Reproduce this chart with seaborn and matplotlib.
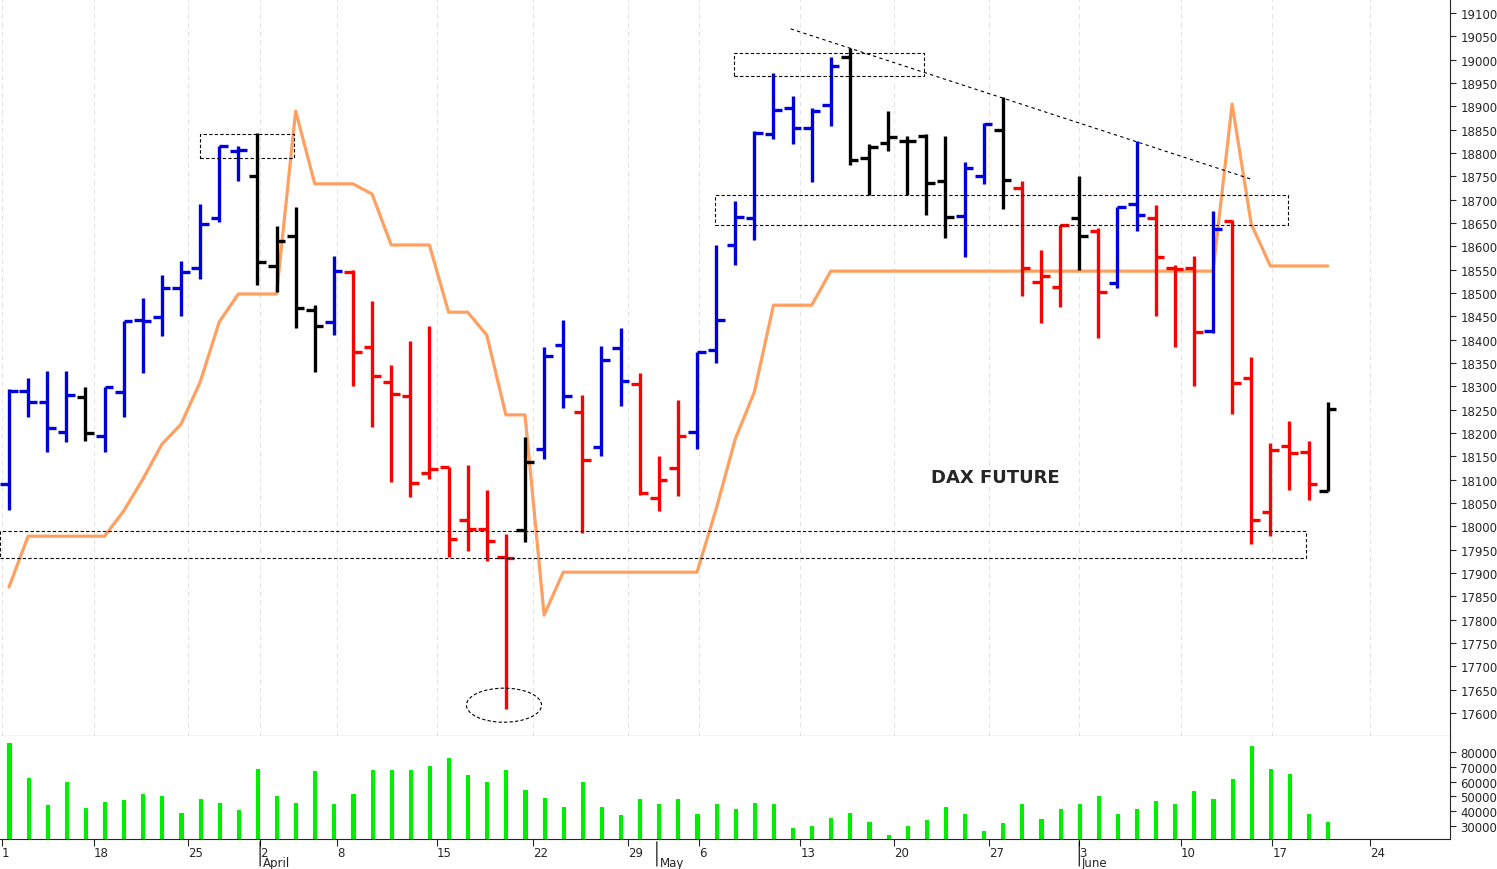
import matplotlib
matplotlib.use('Agg')
import matplotlib.pyplot as plt
from matplotlib.patches import Rectangle, Ellipse
import seaborn as sns
import numpy as np
import pandas as pd

# daily OHLC
opens = [18090, 18290, 18267, 18202, 18277, 18194, 18288, 18442, 18448, 18511,
         18554, 18661, 18804, 18751, 18558, 18622, 18464, 18438, 18545, 18384,
         18309, 18280, 18114, 18127, 18013, 17994, 17934, 17992, 18166, 18389,
         18245, 18170, 18382, 18305, 18061, 18125, 18202, 18378, 18603, 18661,
         18841, 18896, 18853, 18903, 19006, 18789, 18822, 18826, 18836, 18740,
         18665, 18751, 18849, 18725, 18524, 18513, 18661, 18633, 18521, 18691,
         18661, 18554, 18554, 18418, 18654, 18318, 18031, 18172, 18159, 18076]
highs = [18295, 18318, 18333, 18333, 18298, 18298, 18440, 18489, 18539, 18569,
         18691, 18815, 18815, 18843, 18644, 18684, 18474, 18579, 18550, 18483,
         18346, 18397, 18429, 18127, 18131, 18078, 17983, 18191, 18384, 18442,
         18281, 18387, 18425, 18328, 18151, 18271, 18374, 18603, 18697, 18847,
         18971, 18922, 18896, 19006, 19025, 18819, 18890, 18836, 18841, 18836,
         18781, 18864, 18920, 18740, 18592, 18646, 18751, 18639, 18684, 18826,
         18688, 18560, 18579, 18676, 18657, 18363, 18178, 18226, 18183, 18266]
lows = [18035, 18234, 18159, 18181, 18183, 18159, 18234, 18328, 18408, 18451,
        18530, 18652, 18740, 18517, 18502, 18425, 18331, 18410, 18301, 18213,
        18095, 18063, 18101, 17934, 17947, 17926, 17609, 17966, 18144, 18254,
        17985, 18151, 18258, 18067, 18033, 18065, 18166, 18350, 18560, 18614,
        18830, 18819, 18738, 18858, 18774, 18710, 18804, 18710, 18667, 18618,
        18577, 18734, 18680, 18494, 18436, 18470, 18549, 18404, 18511, 18633,
        18451, 18384, 18301, 18414, 18241, 17962, 17979, 18078, 18056, 18076]
closes = [18290, 18267, 18211, 18281, 18200, 18298, 18440, 18440, 18511, 18545,
          18648, 18815, 18806, 18566, 18611, 18468, 18430, 18547, 18373, 18322,
          18283, 18093, 18123, 17973, 17994, 17968, 17932, 18138, 18365, 18280,
          18142, 18356, 18311, 18071, 18099, 18194, 18374, 18442, 18663, 18843,
          18892, 18853, 18890, 18986, 18785, 18813, 18834, 18826, 18736, 18663,
          18768, 18862, 18742, 18554, 18537, 18646, 18622, 18502, 18684, 18667,
          18577, 18552, 18416, 18637, 18307, 18013, 18163, 18157, 18090, 18251]
bar_colors = list('bbbbk' 'bbbbb' 'bbbkk' 'kkbrr' 'rrrrr' 'rrkbb'
                  'rbbrr' 'rbbbb' 'bbbbk' 'kkkkk' 'bbkrr' 'rkrbb'
                  'rrrbr' 'rrrrk')
trend = [17870, 17979, 17979, 17979, 17979, 17979, 18033, 18101, 18176, 18219,
         18309, 18438, 18498, 18498, 18498, 18890, 18734, 18734, 18734, 18712,
         18603, 18603, 18603, 18459, 18459, 18410, 18239, 18239, 17810, 17902,
         17902, 17902, 17902, 17902, 17902, 17902, 17902, 18037, 18187, 18288,
         18474, 18474, 18474] + [18547] * 21 + [18905, 18648, 18558, 18558, 18558, 18558]
volume = [86000, 62400, 44200, 59700, 42200, 46200, 47600, 51600, 50300, 38800,
          48200, 45500, 40800, 68500, 50300, 45500, 67200, 44900, 51600, 67800,
          67800, 67800, 70500, 75900, 64500, 59700, 67800, 54300, 48900, 42800,
          59700, 42800, 37400, 48200, 44900, 48200, 38100, 44900, 41500, 45500,
          44900, 28600, 30000, 35400, 38800, 32700, 23900, 30000, 34100, 42800,
          38100, 26600, 32000, 44900, 34700, 41500, 44900, 50300, 38100, 41500,
          46900, 44900, 53600, 48200, 61800, 84000, 68500, 65100, 38100, 32700]

day_ticks = [-0.37, 4.45, 9.37, 13.14, 17.17, 22.4, 27.4, 32.4, 36.1, 41.4,
             46.3, 51.3, 56.0, 61.3, 66.1, 71.2]
day_labels = ['1', '18', '25', '2', '8', '15', '22', '29', '6', '13',
              '20', '27', '3', '10', '17', '24']
month_ticks = [13.14, 33.9, 56.0]
month_labels = ['April', 'May', 'June']

cmap = {'b': '#0000dd', 'r': '#ff0000', 'k': '#000000'}

sns.set_style('white')
plt.rcParams['font.family'] = ['DejaVu Sans']

fig = plt.figure(figsize=(14.97, 8.70), dpi=100)
W, H = 1497, 870
ax = fig.add_axes([0, 1 - 737 / H, 1450 / W, 737 / H])
axv = fig.add_axes([0, 1 - 840 / H, 1450 / W, 103 / H], sharex=ax)

df = pd.DataFrame({'i': np.arange(len(opens)), 'o': opens, 'h': highs,
                   'l': lows, 'c': closes, 'col': bar_colors, 't': trend, 'v': volume})

for grid_x in day_ticks:
    ax.axvline(grid_x, color='#e4e4e4', lw=0.7, ls=(0, (5, 4)), zorder=0)

sns.lineplot(data=df, x='i', y='t', ax=ax, color='#ffa060', lw=2.3, zorder=2)

tk = 0.45
for _, r in df.iterrows():
    c = cmap[r['col']]
    ax.vlines(r['i'], r['l'], r['h'], color=c, lw=2.4, zorder=3)
    ax.hlines(r['o'], r['i'] - tk, r['i'], color=c, lw=2.4, zorder=3)
    ax.hlines(r['c'], r['i'], r['i'] + tk, color=c, lw=2.4, zorder=3)

# annotations
dash = dict(fill=False, ls=(0, (3, 2)), lw=0.8, ec='black', zorder=4)
ax.add_patch(Rectangle((10.0, 18789), 4.9, 52, **dash))
ax.add_patch(Rectangle((37.96, 18965), 9.94, 49, **dash))
ax.add_patch(Rectangle((36.96, 18646), 29.94, 64, **dash))
ax.add_patch(Rectangle((-0.47, 17932), 68.32, 58, **dash))
ax.add_patch(Ellipse((25.9, 17617), 3.93, 73, **dash))
ax.plot([40.9, 65.0], [19066, 18744], color='black', lw=0.8, ls=(0, (3, 3)), zorder=4)
ax.text(51.6, 18106, 'DAX FUTURE', fontsize=13, fontweight='bold', ha='center', va='center')

ax.set_xlim(-0.47, 75.4)
ax.set_ylim(17551, 19130)
ax.yaxis.tick_right()
ax.set_yticks(np.arange(17600, 19101, 50))
ax.tick_params(axis='y', labelsize=8.5, length=4, direction='out', right=True)
ax.tick_params(axis='x', bottom=False, labelbottom=False)
for s in ['top', 'left']:
    ax.spines[s].set_visible(False)
ax.set_xlabel('')
ax.set_ylabel('')

sns.barplot(x=df['i'], y=df['v'], ax=axv, color='#00ee00', width=0.16,
            native_scale=True, saturation=1, edgecolor='#00ee00', linewidth=0.8)
axv.set_ylim(21200, 90800)
axv.yaxis.tick_right()
axv.set_yticks(np.arange(30000, 80001, 10000))
axv.tick_params(axis='y', labelsize=8.5, length=4, right=True)
for s in ['top', 'left']:
    axv.spines[s].set_visible(False)
axv.set_xlim(-0.47, 75.4)
axv.set_xticks(day_ticks)
axv.set_xticklabels(day_labels, fontsize=8.5, ha='left')
axv.tick_params(axis='x', length=5, pad=0, bottom=True)
axv.set_xlabel('')
axv.set_ylabel('')
for lx, lab in zip(month_ticks, month_labels):
    axv.annotate(lab, xy=(lx, 0), xycoords=('data', 'axes fraction'),
                 xytext=(2, -12.5), textcoords='offset points', fontsize=8.5, va='top')
    axv.annotate('', xy=(lx, 0), xycoords=('data', 'axes fraction'),
                 xytext=(lx, -0.29), textcoords=('data', 'axes fraction'),
                 arrowprops=dict(arrowstyle='-', lw=0.8, color='black'))

fig.savefig('out.png', dpi=100)
